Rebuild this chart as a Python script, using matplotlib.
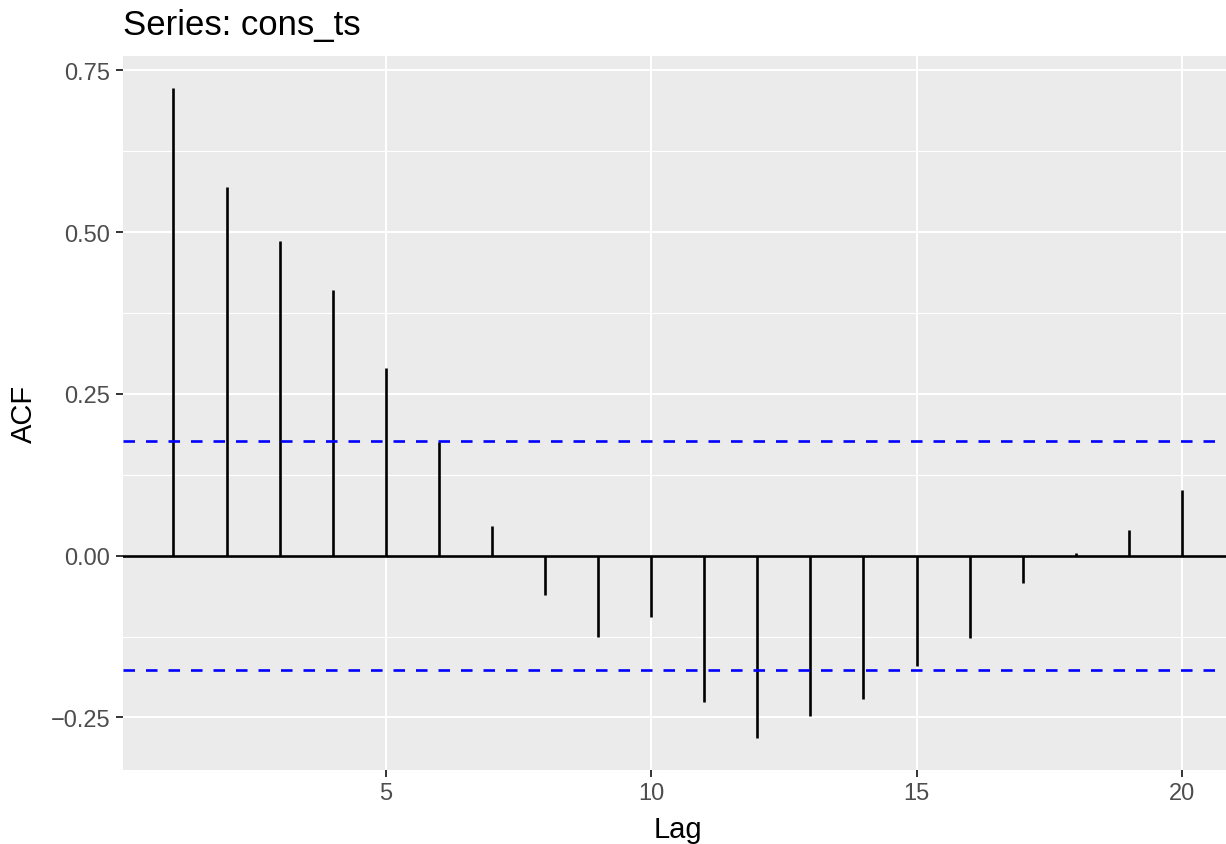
import matplotlib
matplotlib.use("Agg")
import numpy as np
import matplotlib.pyplot as plt
from matplotlib.ticker import FixedLocator, FuncFormatter

# ACF values
lags = [1, 2, 3, 4, 5, 6, 7, 8, 9, 10, 11, 12, 13, 14, 15, 16, 17, 18, 19, 20]
acf = [0.722, 0.569, 0.487, 0.410, 0.290, 0.176, 0.046, -0.061, -0.125, -0.094,
       -0.226, -0.281, -0.248, -0.222, -0.170, -0.127, -0.042, 0.004, 0.039, 0.102]
ci = 0.177  # confidence bound (blue dashed lines)

x_ticks = [5, 10, 15, 20]
y_ticks = [-0.25, 0.0, 0.25, 0.50, 0.75]
y_minor = [-0.125, 0.125, 0.375, 0.625]

plt.rcParams['font.family'] = ['Liberation Sans', 'DejaVu Sans']
plt.rcParams['lines.scale_dashes'] = False

W, H = 1226, 845
fig = plt.figure(figsize=(W / 100, H / 100), dpi=100)

# panel placement in pixels (ggplot-like)
left_px, right_px, top_px, bottom_px = 123, 1232.4, 57, 771
ax = fig.add_axes([left_px / W, 1 - bottom_px / H,
                   (right_px - left_px) / W, (bottom_px - top_px) / H])
ax.set_facecolor('#EBEBEB')
for s in ax.spines.values():
    s.set_visible(False)

# ggplot-style expansion of 5%
xr = max(lags) - min(lags)
ax.set_xlim(min(lags) - 0.05 * xr, max(lags) + 0.05 * xr)
yr = max(acf) - min(acf)
ax.set_ylim(min(acf) - 0.05 * yr, max(acf) + 0.05 * yr)

# grid
for v in y_minor:
    ax.axhline(v, color='white', lw=0.8, zorder=0)
for v in y_ticks:
    ax.axhline(v, color='white', lw=1.5, zorder=0)
for v in x_ticks:
    ax.axvline(v, color='white', lw=1.5, zorder=0)

ax.axhline(0, color='black', lw=1.9, zorder=2)
ax.vlines(lags, 0, acf, color='black', lw=1.9, zorder=3)
for v in (ci, -ci):
    ax.axhline(v, color='blue', lw=1.9, linestyle=(0, (8.3, 7.9)), zorder=4)

ax.xaxis.set_major_locator(FixedLocator(x_ticks))
ax.yaxis.set_major_locator(FixedLocator(y_ticks))
ax.yaxis.set_major_formatter(FuncFormatter(lambda v, p: f"{v:.2f}".replace('-', '\u2212')))
ax.tick_params(axis='both', length=5.3, width=1.4, color='#333333',
               labelcolor='#4D4D4D', labelsize=17)
ax.tick_params(axis='x', pad=3.5)
ax.tick_params(axis='y', pad=4)

fig.text(left_px / W, 1 - 35 / H, 'Series: cons_ts', fontsize=25,
         ha='left', va='baseline', color='black')
fig.text((left_px + right_px) / 2 / W, 1 - 838 / H, 'Lag', fontsize=21,
         ha='center', va='baseline', color='black')
fig.text(24 / W, 1 - (top_px + bottom_px) / 2 / H, 'ACF', fontsize=21,
         rotation=90, ha='center', va='center', color='black')

fig.savefig('out.png', dpi=100)
